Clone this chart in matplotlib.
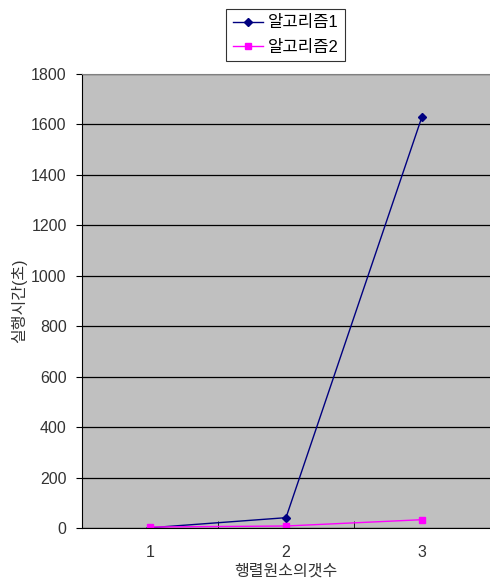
import matplotlib.pyplot as plt

plt.rcParams['font.family'] = ['Liberation Sans', 'Noto Sans CJK KR', 'DejaVu Sans']

categories = ['1', '2', '3']
algo1 = [1, 41, 1631]
algo2 = [4, 8, 33]
series_names = ['알고리즘1', '알고리즘2']

fig = plt.figure(figsize=(4.9, 5.83), dpi=100)
ax = fig.add_axes([0.1673, 0.0943, 0.8327, 0.7787])
ax.set_facecolor('#C0C0C0')

x = range(1, len(categories) + 1)
ax.plot(x, algo1, color='#000080', linewidth=1, marker='D', markersize=4,
        label=series_names[0])
ax.plot(x, algo2, color='#FF00FF', linewidth=1, marker='s', markersize=5,
        label=series_names[1])

ax.set_xlim(0.5, 3.5)
ax.set_ylim(0, 1800)
ax.set_yticks(range(0, 1801, 200))
ax.yaxis.grid(True, color='black', linewidth=0.9)
ax.set_axisbelow(True)

ax.set_xticks(list(x))
ax.set_xticklabels(categories)
ax.set_xticks([0.5, 1.5, 2.5, 3.5], minor=True)
ax.tick_params(axis='x', which='major', length=0, pad=12, labelsize=11.5, colors='#333333')
ax.tick_params(axis='x', which='minor', direction='in', length=5, color='black')
ax.tick_params(axis='y', length=4, labelsize=11.5, pad=7, colors='#333333')
ax.tick_params(axis='y', color='black')

ax.spines['right'].set_visible(False)
ax.spines['top'].set_color('#808080')
ax.spines['left'].set_color('black')
ax.spines['bottom'].set_color('black')

ax.set_xlabel('행렬원소의갯수', fontsize=11.5, labelpad=3, color='#333333')
ax.set_ylabel('실행시간(초)', fontsize=11.5, labelpad=3, color='#333333')

leg = fig.legend(loc='upper center', bbox_to_anchor=(0.583, 0.985), frameon=True,
                 fancybox=False, edgecolor='black', fontsize=12,
                 handlelength=1.8, handletextpad=0.3, borderpad=0.4,
                 labelspacing=0.55, borderaxespad=0)
leg.get_frame().set_linewidth(0.8)

fig.savefig('out.png', dpi=100)
